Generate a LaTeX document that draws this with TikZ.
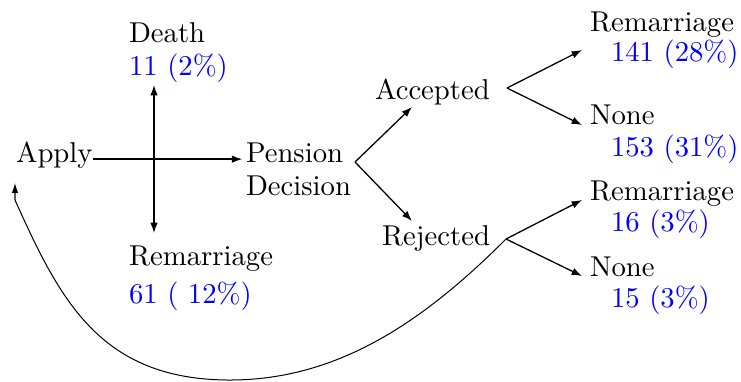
\documentclass[tikz,border=0pt]{standalone}
\usetikzlibrary{arrows.meta}
\begin{document}
\begin{tikzpicture}[x=0.3484pt,y=-0.3484pt,
  lbl/.style={anchor=base west,inner sep=0pt,outer sep=0pt},
  num/.style={lbl,text=blue},
  arr/.style={-{Latex[length=3.6pt,width=2.6pt]},line width=0.45pt}]
\useasboundingbox (0,0) rectangle (741,381);
% nodes
\node[lbl] (apply) at (16,162) {Apply};
\node[lbl] (pension) at (246,162) {Pension};
\node[lbl] (decision) at (246,195) {Decision};
\node[lbl] (death) at (129,42) {Death};
\node[num] (deathn) at (129,75) {11 (2\%)};
\node[lbl] (reml) at (129,265) {Remarriage};
\node[num] (remln) at (129,303) {61 ( 12\%)};
\node[lbl] (accepted) at (375,99) {Accepted};
\node[lbl] (rejected) at (382,245) {Rejected};
\node[lbl] (rema) at (590,31) {Remarriage};
\node[num] (reman) at (611,61) {141 (28\%)};
\node[lbl] (nonea) at (590,124) {None};
\node[num] (nonean) at (611,156) {153 (31\%)};
\node[lbl] (remr) at (590,200) {Remarriage};
\node[num] (remrn) at (611,231) {16 (3\%)};
\node[lbl] (noner) at (590,276) {None};
\node[num] (nonern) at (611,307) {15 (3\%)};
% connector end points
\coordinate (vtop) at (154,85);
\coordinate (vbot) at (154,233);
\coordinate (pd) at (355,162);
\coordinate (accin) at (412,107);
\coordinate (rejin) at (412,221);
\coordinate (accout) at (507,88);
\coordinate (rejout) at (506,239);
\coordinate (remain) at (582,50);
\coordinate (noneain) at (582,125);
\coordinate (remrin) at (582,200);
\coordinate (nonerin) at (582,276);
\coordinate (cbot) at (230,380);
\coordinate (cend) at (15,200);
\coordinate (applyin) at (15,183);
% connectors
\draw[arr] ([yshift=1pt]apply.base east) -- ([xshift=-1.3pt,yshift=1pt]pension.base west);
\draw[arr,{Latex[length=3.6pt,width=2.6pt]}-{Latex[length=3.6pt,width=2.6pt]}] (vtop) -- (vbot);
\draw[arr] (pd) -- (accin);
\draw[arr] (pd) -- (rejin);
\draw[arr] (accout) -- (remain);
\draw[arr] (accout) -- (noneain);
\draw[arr] (rejout) -- (remrin);
\draw[arr] (rejout) -- (nonerin);
\draw[-{Latex[length=3.4pt,width=2.2pt]},line width=0.35pt]
  (rejout) .. controls (426,319) and (340,380) .. (cbot)
  .. controls (100,380) and (60,300) .. (cend) -- (applyin);
\end{tikzpicture}
\end{document}
